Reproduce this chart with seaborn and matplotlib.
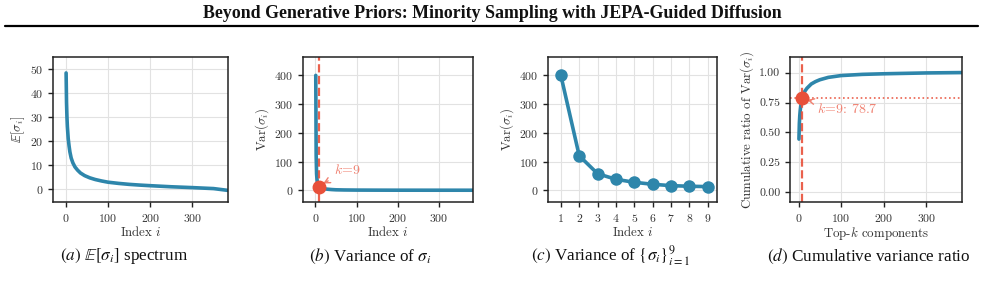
import matplotlib
matplotlib.use("Agg")
import matplotlib.pyplot as plt
import seaborn as sns
import numpy as np
import pandas as pd

# ---------------- data ----------------
idx_a = [1, 2, 3, 4, 6, 8, 10, 13, 17, 22, 28, 35, 45, 57, 70, 85, 100,
         125, 150, 175, 200, 250, 300, 350, 384]
mean_sigma = [48.2, 36.0, 30.0, 26.0, 21.0, 18.0, 15.5, 13.0, 11.0, 9.3, 8.0,
              6.8, 5.7, 4.8, 4.1, 3.5, 3.0, 2.5, 2.1, 1.8, 1.55, 1.1, 0.75,
              0.35, -0.4]

idx_b = [1, 2, 3, 4, 5, 6, 7, 8, 9, 10, 12, 15, 20, 25, 30, 40, 50, 70, 100,
         150, 200, 300, 384]
var_sigma = [400, 120, 57.5, 38, 27.6, 20.7, 16, 13.8, 12.6, 11.5, 10, 8, 6,
             4.5, 3.5, 2.3, 1.5, 0.9, 0.5, 0.25, 0.12, 0.05, 0.0]

idx_c = [1, 2, 3, 4, 5, 6, 7, 8, 9]
var_top9 = [400, 120, 57.5, 38, 27.6, 20.7, 16, 13.8, 12.6]

idx_d = [1, 2, 3, 4, 5, 6, 7, 8, 9, 12, 15, 20, 30, 40, 50, 70, 100, 150,
         200, 300, 384]
cum_ratio = [0.445, 0.578, 0.642, 0.684, 0.715, 0.738, 0.756, 0.771, 0.787,
             0.82, 0.845, 0.87, 0.905, 0.925, 0.94, 0.96, 0.975, 0.985, 0.99,
             0.997, 1.0]

k_sel = 9
k_var = 12.6
k_ratio = 0.787

title = "Beyond Generative Priors: Minority Sampling with JEPA-Guided Diffusion"
captions = [r"$\mathit{(a)}$ $\mathbb{E}[\sigma_i]$ spectrum",
            r"$\mathit{(b)}$ Variance of $\sigma_i$",
            r"$\mathit{(c)}$ Variance of $\{\sigma_i\}_{i=1}^{9}$",
            r"$\mathit{(d)}$ Cumulative variance ratio"]
caption_x = [124, 370, 611, 869]

# ---------------- style ----------------
sns.set_style("whitegrid")
plt.rcParams["font.family"] = ["cmr10", "DejaVu Serif"]
plt.rcParams["mathtext.fontset"] = "cm"
plt.rcParams["axes.formatter.use_mathtext"] = True
plt.rcParams.update({
    "axes.edgecolor": "#222222",
    "axes.linewidth": 1.1,
    "grid.color": "#e2e2e2",
    "grid.linewidth": 0.8,
    "xtick.bottom": True,
    "ytick.left": True,
    "xtick.major.size": 3.5,
    "ytick.major.size": 3.5,
    "xtick.major.width": 1.0,
    "ytick.major.width": 1.0,
    "xtick.color": "#222222",
    "ytick.color": "#222222",
    "xtick.labelcolor": "#333333",
    "ytick.labelcolor": "#333333",
    "xtick.labelsize": 8.5,
    "ytick.labelsize": 8.5,
    "axes.labelsize": 9.3,
    "axes.labelcolor": "#333333",
})

BLUE = "#2E86AB"
RED = "#E8503A"
SALMON = "#F08070"
LW = 2.6

fig = plt.figure(figsize=(9.85, 2.84), dpi=100)

bottom = 1 - 202 / 284
height = 145 / 284
lefts = [53, 303, 548, 790]
widths = [175, 170, 169, 172]
axes = [fig.add_axes([l / 985, bottom, w / 985, height]) for l, w in zip(lefts, widths)]

# (a)
ax = axes[0]
sns.lineplot(x=idx_a, y=mean_sigma, ax=ax, color=BLUE, linewidth=LW)
ax.set_xlim(-30, 384)
ax.set_ylim(-5.2, 54.8)
ax.set_xticks([0, 100, 200, 300])
ax.set_yticks([0, 10, 20, 30, 40, 50])
ax.set_xlabel(r"Index $i$", labelpad=1)
ax.set_ylabel(r"$\mathbb{E}[\sigma_i]$", labelpad=2)

# (b)
ax = axes[1]
sns.lineplot(x=idx_b, y=var_sigma, ax=ax, color=BLUE, linewidth=LW)
ax.axvline(k_sel, color=RED, linestyle="--", linewidth=1.6, alpha=0.9)
ax.plot([k_sel], [k_var], "o", color=RED, markersize=9, zorder=5)
ax.annotate(r"$k\!=\!9$", xy=(k_sel + 4, k_var + 6), xytext=(45, 55),
            color=SALMON, fontsize=10,
            arrowprops=dict(arrowstyle="->", color=SALMON, lw=1.0))
ax.set_xlim(-30, 383)
ax.set_ylim(-41, 464)
ax.set_xticks([0, 100, 200, 300])
ax.set_yticks([0, 100, 200, 300, 400])
ax.set_xlabel(r"Index $i$", labelpad=1)
ax.set_ylabel(r"Var$(\sigma_i)$", labelpad=2)

# (c)
ax = axes[2]
sns.lineplot(x=idx_c, y=var_top9, ax=ax, color=BLUE, linewidth=LW,
             marker="o", markersize=9, markeredgewidth=0)
ax.set_xlim(0.3, 9.5)
ax.set_ylim(-41, 464)
ax.set_xticks(idx_c)
ax.set_yticks([0, 100, 200, 300, 400])
ax.set_xlabel(r"Index $i$", labelpad=1)
ax.set_ylabel(r"Var$(\sigma_i)$", labelpad=2)

# (d)
ax = axes[3]
sns.lineplot(x=idx_d, y=cum_ratio, ax=ax, color=BLUE, linewidth=LW)
ax.axvline(k_sel, color=RED, linestyle="--", linewidth=1.6, alpha=0.9)
ax.axhline(k_ratio, color=RED, linestyle=":", linewidth=1.2, alpha=0.9)
ax.plot([k_sel], [k_ratio], "o", color=RED, markersize=9, zorder=5)
ax.annotate(r"$k\!=\!9$: 78.7", xy=(k_sel + 5, k_ratio - 0.01), xytext=(44, 0.66),
            color=SALMON, fontsize=10,
            arrowprops=dict(arrowstyle="->", color=SALMON, lw=1.0))
ax.set_xlim(-20, 384)
ax.set_ylim(-0.08, 1.13)
ax.set_xticks([0, 100, 200, 300])
ax.set_yticks([0, 0.25, 0.5, 0.75, 1.0])
ax.set_yticklabels(["0.00", "0.25", "0.50", "0.75", "1.00"])
ax.set_xlabel(r"Top-$k$ components", labelpad=1)
ax.set_ylabel(r"Cumulative ratio of Var$(\sigma_i)$", labelpad=2)

# captions
for cx, cap in zip(caption_x, captions):
    fig.text(cx / 985, 1 - 256 / 284, cap, ha="center", va="center",
             fontsize=12.3, family=["Liberation Serif"], math_fontfamily="stix",
             color="#111111")

# page header
fig.text(0.5, 1 - 14 / 284, title, ha="center", va="center", fontsize=12.9,
         fontweight="bold", family=["Liberation Serif"], color="#111111")
fig.add_artist(plt.Line2D([5 / 985, 978 / 985], [1 - 26 / 284, 1 - 26 / 284],
                          color="black", linewidth=1.6))

fig.savefig("out.png", dpi=100)
